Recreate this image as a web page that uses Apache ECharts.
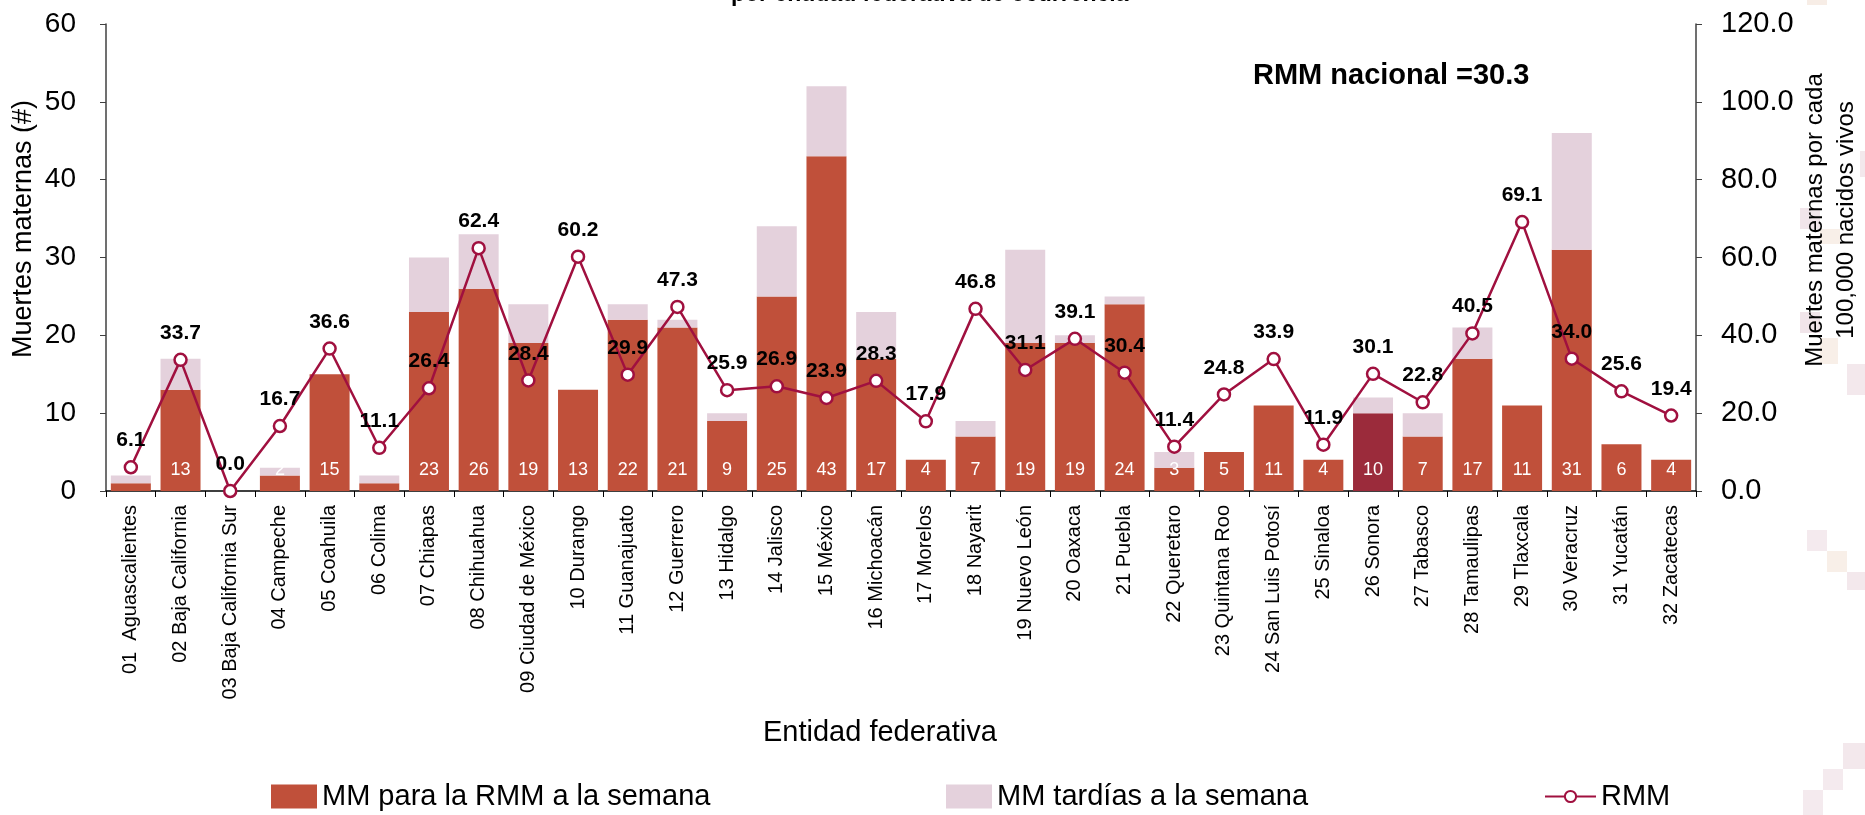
<!DOCTYPE html>
<html>
<head>
<meta charset="utf-8">
<script src="https://cdn.jsdelivr.net/npm/echarts@6/dist/echarts.min.js"></script>
<style>
  html, body { margin: 0; padding: 0; background: #ffffff; }
  #chart { width: 1865px; height: 815px; }
</style>
</head>
<body>
<div id="chart"></div>
<script>
// ---- Data ----
const categories = [
  '01  Aguascalientes', '02 Baja California', '03 Baja California Sur', '04 Campeche',
  '05 Coahuila', '06 Colima', '07 Chiapas', '08 Chihuahua', '09 Ciudad de México',
  '10 Durango', '11 Guanajuato', '12 Guerrero', '13 Hidalgo', '14 Jalisco', '15 México',
  '16 Michoacán', '17 Morelos', '18 Nayarit', '19 Nuevo León', '20 Oaxaca', '21 Puebla',
  '22 Queretaro', '23 Quintana Roo', '24 San Luis Potosí', '25 Sinaloa', '26 Sonora',
  '27 Tabasco', '28 Tamaulipas', '29 Tlaxcala', '30 Veracruz', '31 Yucatán', '32 Zacatecas'
];
const mmRMM = [1, 13, 0, 2, 15, 1, 23, 26, 19, 13, 22, 21, 9, 25, 43, 17, 4, 7, 19, 19, 24, 3, 5, 11, 4, 10, 7, 17, 11, 31, 6, 4];
const mmTardias = [1, 4, 0, 1, 0, 1, 7, 7, 5, 0, 2, 1, 1, 9, 9, 6, 0, 2, 12, 1, 1, 2, 0, 0, 0, 2, 3, 4, 0, 15, 0, 0];
const rmm = [6.1, 33.7, 0.0, 16.7, 36.6, 11.1, 26.4, 62.4, 28.4, 60.2, 29.9, 47.3, 25.9, 26.9, 23.9, 28.3, 17.9, 46.8, 31.1, 39.1, 30.4, 11.4, 24.8, 33.9, 11.9, 30.1, 22.8, 40.5, 69.1, 34.0, 25.6, 19.4];
const leftTicks = { min: 0, max: 60, interval: 10 };
const rightTicks = { min: 0, max: 120, interval: 20 };
const highlightCategory = '26 Sonora';
const nationalLabel = 'RMM nacional =30.3';

// ---- Styles ----
const FONT = '"Liberation Sans", Arial, sans-serif';
const C_MAIN = '#C0503A';
const C_LATE = '#E4D1DC';
const C_HIGHLIGHT = '#9B2B3B';
const C_LINE = '#A0103F';

const darkData = mmRMM.map((v, i) => categories[i] === highlightCategory
  ? { value: v, itemStyle: { color: C_HIGHLIGHT } }
  : v);

// decorative faint squares on the right edge
const deco = [
  [1807, 0, 20, 5, '#F7EDE6'],
  [1860, 151, 6, 26, '#F3E8EC'],
  [1800, 208, 20, 21, '#F1E5EA'],
  [1820, 229, 20, 15, '#F8EFE8'],
  [1800, 312, 20, 21, '#F1E5EA'],
  [1820, 338, 18, 26, '#F8EFE8'],
  [1847, 364, 18, 31, '#F3E8EC'],
  [1807, 530, 20, 21, '#F4EAEE'],
  [1827, 551, 20, 21, '#F8EFE8'],
  [1847, 572, 18, 18, '#F3E8EC'],
  [1843, 743, 22, 26, '#F3E8EC'],
  [1823, 769, 20, 21, '#F4EAEE'],
  [1803, 790, 20, 25, '#F4EAEE']
];
const decoGraphics = deco.map(d => ({
  type: 'rect', z: -10, silent: true,
  shape: { x: d[0], y: d[1], width: d[2], height: d[3] },
  style: { fill: d[4] }
}));

const legendText = { fontSize: 29, color: '#000', fontFamily: FONT };

const chart = echarts.init(document.getElementById('chart'), null, { renderer: 'canvas' });
const option = {
  animation: false,
  backgroundColor: '#ffffff',
  textStyle: { fontFamily: FONT },
  grid: { left: 106, right: 169, top: 24, bottom: 324, containLabel: false },
  legend: [
    {
      data: ['MM para la RMM a la semana'], left: 271, top: 782, padding: 0,
      icon: 'rect', itemWidth: 46, itemHeight: 24, itemGap: 0,
      textStyle: legendText
    },
    {
      data: ['MM tardías a la semana'], left: 946, top: 782, padding: 0,
      icon: 'rect', itemWidth: 46, itemHeight: 24, itemGap: 0,
      textStyle: legendText
    },
    {
      data: ['RMM'], left: 1544, top: 782, padding: 0,
      itemWidth: 51, itemHeight: 14, itemGap: 0,
      textStyle: legendText
    }
  ],
  xAxis: {
    type: 'category',
    data: categories,
    axisLine: { lineStyle: { color: '#000', width: 1.5 } },
    axisTick: { show: true, length: 6, lineStyle: { color: '#000' } },
    axisLabel: { rotate: 90, interval: 0, fontSize: 20, color: '#000', margin: 14, fontFamily: FONT },
    splitLine: { show: false }
  },
  yAxis: [
    {
      type: 'value', min: leftTicks.min, max: leftTicks.max, interval: leftTicks.interval,
      axisLine: { show: true, lineStyle: { color: '#404040', width: 1.5 } },
      axisTick: { show: true, length: 6, lineStyle: { color: '#404040' } },
      axisLabel: { fontSize: 28, color: '#000', margin: 30, fontFamily: FONT },
      splitLine: { show: false }
    },
    {
      type: 'value', min: rightTicks.min, max: rightTicks.max, interval: rightTicks.interval,
      position: 'right',
      axisLine: { show: true, lineStyle: { color: '#404040', width: 1.5 } },
      axisTick: { show: true, length: 6, lineStyle: { color: '#404040' } },
      axisLabel: { fontSize: 29, color: '#000', margin: 25, fontFamily: FONT,
        formatter: v => v.toFixed(1) },
      splitLine: { show: false }
    }
  ],
  series: [
    {
      name: 'MM para la RMM a la semana', type: 'bar', stack: 'mm',
      data: darkData, barCategoryGap: '19.5%',
      itemStyle: { color: C_MAIN },
      label: {
        show: true, position: 'insideBottom', distance: 12,
        color: '#ffffff', fontSize: 18, fontFamily: FONT,
        formatter: p => (p.value ? String(p.value) : '')
      },
      z: 2
    },
    {
      name: 'MM tardías a la semana', type: 'bar', stack: 'mm',
      data: mmTardias,
      itemStyle: { color: C_LATE },
      z: 2
    },
    {
      name: 'RMM', type: 'line', yAxisIndex: 1,
      data: rmm,
      symbol: 'circle', symbolSize: 12,
      lineStyle: { color: C_LINE, width: 2.5 },
      itemStyle: { color: '#ffffff', borderColor: C_LINE, borderWidth: 2.5 },
      label: {
        show: true, position: 'top', distance: 9,
        color: '#000', fontWeight: 'bold', fontSize: 21, fontFamily: FONT,
        formatter: p => Number(p.value).toFixed(1)
      },
      z: 5
    }
  ],
  graphic: decoGraphics.concat([
    {
      type: 'text', left: 881 - 118, top: 718,
      style: { text: 'Entidad federativa', font: '29px ' + FONT, fill: '#000' }
    },
    {
      type: 'text', x: 24, y: 229, rotation: Math.PI / 2,
      style: { text: 'Muertes maternas (#)', font: '27px ' + FONT, fill: '#000',
        textAlign: 'center', textVerticalAlign: 'middle' }
    },
    {
      type: 'text', x: 1831, y: 220, rotation: Math.PI / 2,
      style: { text: 'Muertes maternas por cada\n100,000 nacidos vivos', font: '24px ' + FONT,
        fill: '#000', textAlign: 'center', textVerticalAlign: 'middle', lineHeight: 31 }
    },
    {
      type: 'text', x: 731, y: -5,
      style: { text: 'por entidad federativa de ocurrencia', font: 'bold 23px ' + FONT, fill: '#000',
        textAlign: 'left', textVerticalAlign: 'middle' }
    },
    {
      type: 'text', x: 1253, y: 76,
      style: { text: nationalLabel, font: 'bold 29px ' + FONT, fill: '#000',
        textAlign: 'left', textVerticalAlign: 'middle' }
    }
  ])
};
chart.setOption(option);
</script>
</body>
</html>
